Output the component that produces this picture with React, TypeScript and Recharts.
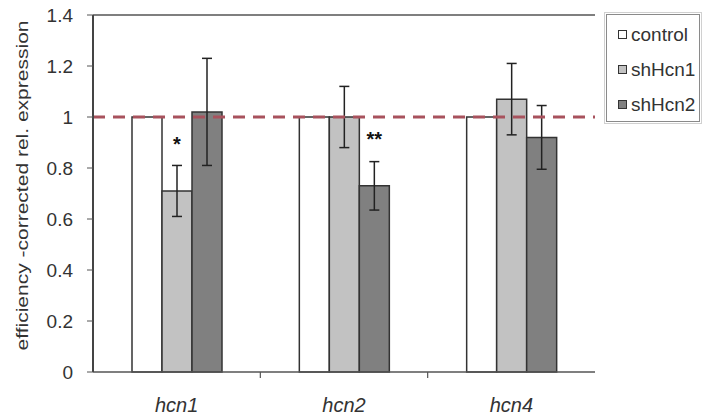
import React from 'react';
import {
  BarChart, Bar, XAxis, YAxis, ReferenceLine, ErrorBar, LabelList,
} from 'recharts';

const genes = ['hcn1', 'hcn2', 'hcn4'];
const control = [1, 1, 1];
const shHcn1 = [0.71, 1.0, 1.07];
const shHcn2 = [1.02, 0.73, 0.92];
const shHcn1Err = [0.1, 0.12, 0.14];
const shHcn2Err = [0.21, 0.095, 0.125];
const shHcn1Sig = ['*', '', ''];
const shHcn2Sig = ['', '**', ''];
const yTicks = [0, 0.2, 0.4, 0.6, 0.8, 1, 1.2, 1.4];

const SERIES = [
  { key: 'control', fill: '#ffffff' },
  { key: 'shHcn1', fill: '#c2c2c2' },
  { key: 'shHcn2', fill: '#808080' },
];

const FONT = '"Liberation Sans", Arial, sans-serif';
const INK = '#333333';

const data = genes.map((g, i) => ({
  gene: g,
  control: control[i],
  shHcn1: shHcn1[i],
  shHcn2: shHcn2[i],
  shHcn1Err: shHcn1Err[i],
  shHcn2Err: shHcn2Err[i],
  shHcn1Sig: shHcn1Sig[i],
  shHcn2Sig: shHcn2Sig[i],
}));

// category ticks: label under the middle, tick mark on the band boundary
function GeneTick(props: any) {
  const { x, y, payload, index } = props;
  const band = (595 - 93) / genes.length;
  return (
    <g>
      {index > 0 && (
        <line x1={x - band / 2} x2={x - band / 2} y1={y} y2={y + 6} stroke="#555" strokeWidth={1.2} />
      )}
      <text x={x} y={y + 40} textAnchor="middle" fontSize={20} fontStyle="italic" fill={INK} fontFamily={FONT}>
        {payload.value}
      </text>
    </g>
  );
}

function Star(props: any) {
  const { x, y, width, value } = props;
  if (!value) return null;
  return (
    <text x={x + width / 2} y={y - 40} textAnchor="middle" fontSize={20} fontWeight="bold" fill="#111" fontFamily={FONT}>
      {value}
    </text>
  );
}

function YTitle(props: any) {
  const { viewBox } = props;
  const cx = viewBox.x + 22;
  const cy = viewBox.y + viewBox.height / 2 - 8;
  return (
    <text
      x={cx}
      y={cy}
      transform={`rotate(-90 ${cx} ${cy})`}
      textAnchor="middle"
      dominantBaseline="central"
      fontSize={17}
      textLength={330}
      lengthAdjust="spacingAndGlyphs"
      fill={INK}
      fontFamily={FONT}
    >
      efficiency -corrected rel. expression
    </text>
  );
}

function LegendBox() {
  return (
    <div
      style={{
        position: 'absolute', left: 606, top: 14,
        width: 94, height: 108, boxSizing: 'border-box', border: '1px solid #8a8a8a',
        outline: '1px solid #d0d0d0', outlineOffset: 1,
        fontFamily: FONT, fontSize: 19, color: INK, paddingTop: 2, paddingLeft: 11,
      }}
    >
      {SERIES.map((s) => (
        <div key={s.key} style={{ display: 'flex', alignItems: 'center', height: 35 }}>
          <span style={{ width: 7, height: 7, background: s.fill, border: '1px solid #333', marginRight: 4 }} />
          <span>{s.key}</span>
        </div>
      ))}
    </div>
  );
}

export default function App() {
  return (
    <div style={{ position: 'absolute', left: 0, top: 0, width: 703, height: 419, background: '#fff' }}>
      <BarChart
        width={703}
        height={419}
        data={data}
        margin={{ top: 15, right: 108, bottom: 0, left: 0 }}
        barSize={30}
        barGap={0}
      >
        <XAxis
          dataKey="gene"
          height={47}
          tickSize={0}
          tickMargin={0}
          tickLine={false}
          tick={<GeneTick />}
          axisLine={{ stroke: '#555', strokeWidth: 1.5 }}
          interval={0}
        />
        <YAxis
          width={93}
          domain={[0, 1.4]}
          ticks={yTicks}
          interval={0}
          tickSize={6}
          tickMargin={14}
          tick={{ fontSize: 19, fill: INK, fontFamily: FONT }}
          tickLine={{ stroke: '#555' }}
          axisLine={{ stroke: '#444', strokeWidth: 2 }}
          label={<YTitle />}
        />
        <YAxis
          yAxisId="frame"
          orientation="right"
          width={0}
          domain={[0, 1.4]}
          tick={false}
          tickLine={false}
          axisLine={{ stroke: '#555', strokeWidth: 2 }}
        />
        <ReferenceLine y={1.4} stroke="#555" strokeWidth={1.5} />
        <Bar dataKey="control" fill={SERIES[0].fill} stroke="#333" strokeWidth={1.5} isAnimationActive={false} />
        <Bar dataKey="shHcn1" fill={SERIES[1].fill} stroke="#333" strokeWidth={1.5} isAnimationActive={false}>
          <ErrorBar dataKey="shHcn1Err" width={5} stroke="#222" strokeWidth={1.5} />
          <LabelList dataKey="shHcn1Sig" content={<Star />} />
        </Bar>
        <Bar dataKey="shHcn2" fill={SERIES[2].fill} stroke="#333" strokeWidth={1.5} isAnimationActive={false}>
          <ErrorBar dataKey="shHcn2Err" width={5} stroke="#222" strokeWidth={1.5} />
          <LabelList dataKey="shHcn2Sig" content={<Star />} />
        </Bar>
        <ReferenceLine y={1} stroke="#a8525d" strokeWidth={3} strokeDasharray="12 8" />
      </BarChart>
      <LegendBox />
    </div>
  );
}
